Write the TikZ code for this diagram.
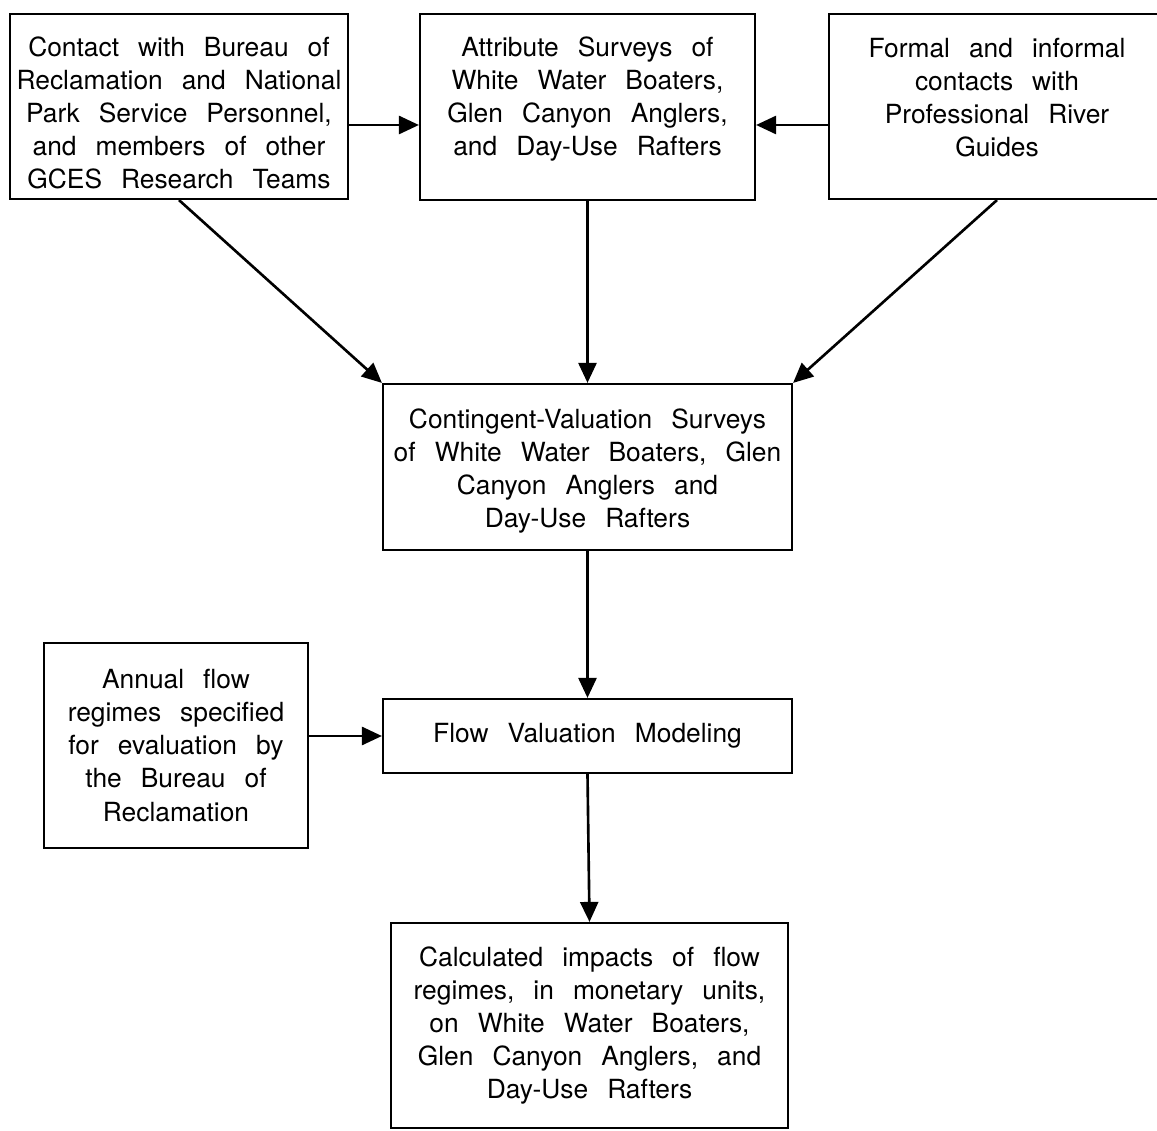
\documentclass[tikz,border=0pt]{standalone}
\usepackage{fontspec}
\setmainfont{TeX Gyre Heros}[WordSpace=2.6]
\usetikzlibrary{arrows.meta}

% extra room above the first line / below the last line of a box
\newcommand{\topgap}[1]{\rule{0pt}{\dimexpr 10.9pt+#1\relax}}
\newcommand{\botgap}[1]{\rule[-#1]{0pt}{0pt}}

\tikzset{
  box/.style={draw, line width=1.25pt, align=center, inner sep=1pt,
    font=\fontsize{15}{18.8}\selectfont},
  flow/.style={-{Triangle[length=0.4cm, width=0.36cm]}, line width=1.5pt},
}

\begin{document}
\begin{tikzpicture}[x=0.02cm, y=-0.02cm]
  \useasboundingbox (0,0) rectangle (1157,1131);

  % Top row of boxes
  \node[box, minimum width=6.76cm, minimum height=3.7cm] (contact) at (179,106.5)
    {\topgap{0.28cm}Contact with Bureau of\\ Reclamation and National\\ Park Service Personnel,\\ and members of other\\ GCES Research Teams};
  \node[box, minimum width=6.7cm, minimum height=3.72cm] (attrib) at (587.5,107)
    {Attribute Surveys of\\ White Water Boaters,\\ Glen Canyon Anglers,\\ and Day-Use Rafters\botgap{0.44cm}};
  \node[box, minimum width=6.72cm, minimum height=3.7cm] (guides) at (997,106.5)
    {Formal and informal\\ contacts with\\ Professional River\\ Guides\botgap{0.36cm}};

  % Middle boxes
  \node[box, minimum width=8.18cm, minimum height=3.32cm] (cvm) at (587.5,467)
    {\topgap{0.16cm}Contingent-Valuation Surveys\\ of White Water Boaters, Glen\\ Canyon Anglers and\\ Day-Use Rafters};
  \node[box, minimum width=8.18cm, minimum height=1.48cm] (model) at (587.5,736)
    {Flow Valuation Modeling};
  \node[box, minimum width=5.28cm, minimum height=4.1cm] (annual) at (176,745.5)
    {Annual flow\\ regimes specified\\ for evaluation by\\ the Bureau of\\ Reclamation};

  % Bottom box
  \node[box, minimum width=7.94cm, minimum height=4.1cm] (impacts) at (589.5,1025.5)
    {Calculated impacts of flow\\ regimes, in monetary units,\\ on White Water Boaters,\\ Glen Canyon Anglers, and\\ Day-Use Rafters};

  % Draw the arrows
  \coordinate (lvl) at (0,125);
  \draw[flow] (contact.east |- lvl) -- (attrib.west |- lvl);
  \draw[flow] (guides.west |- lvl) -- (attrib.east |- lvl);
  \draw[flow] (contact.south) -- (cvm.north west);
  \draw[flow] (attrib.south) -- (cvm.north);
  \draw[flow] (guides.south) -- (cvm.north east);
  \draw[flow] (cvm.south) -- (model.north);
  \draw[flow] (annual.east |- model.west) -- (model.west);
  \draw[flow] (model.south) -- (impacts.north);
\end{tikzpicture}
\end{document}
